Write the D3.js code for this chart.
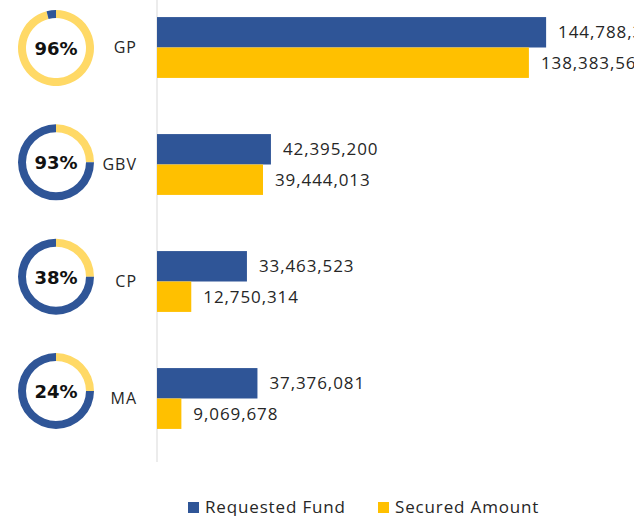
<!DOCTYPE html>
<html>
<head>
<meta charset="utf-8">
<title>Requested vs secured</title>
<style>
  body { margin: 0; background: #fff; }
  svg { display: block; font-family: "Open Sans", sans-serif; }
</style>
</head>
<body>
<svg></svg>
<script src="https://cdn.jsdelivr.net/npm/d3@7"></script>
<script>
// chart data
var categories = ["GP", "GBV", "CP", "MA"];
var requested = [144788386, 42395200, 33463523, 37376081];
var secured = [138383560, 39444013, 12750314, 9069678];
var pctLabels = ["96%", "93%", "38%", "24%"];
// share of each ring painted yellow (as drawn in the original)
var ringShare = [0.96, 0.25, 0.25, 0.25];
var seriesNames = ["Requested Fund", "Secured Amount"];

var width = 634, height = 516;
var blue = "#2F5597", yellow = "#FFC000", ringYellow = "#FFD966";

var svg = d3.select("svg")
    .attr("width", width)
    .attr("height", height);

// scales
var x = d3.scaleLinear().domain([0, 160e6]).range([157, 587]);
var y = d3.scaleBand().domain(categories)
    .range([-11, 457]).paddingInner(0.48).paddingOuter(0.24);
var ySub = d3.scaleBand().domain(seriesNames).range([0, y.bandwidth()]);
var yRing = d3.scalePoint().domain(categories).range([48, 391]);
var fmt = d3.format(",");

// vertical axis line
svg.append("line")
    .attr("x1", x(0)).attr("x2", x(0))
    .attr("y1", 0).attr("y2", 462)
    .attr("stroke", "#d9d9d9")
    .attr("stroke-width", 1);

var rows = categories.map(function(c, i) {
    return {cat: c, vals: [requested[i], secured[i]], pct: pctLabels[i], share: ringShare[i]};
});

var g = svg.selectAll(".row")
    .data(rows)
    .enter().append("g")
    .attr("class", "row")
    .attr("transform", function(d) { return "translate(0," + y(d.cat) + ")"; });

// bars
g.selectAll("rect")
    .data(function(d) { return d.vals.map(function(v, j) { return {v: v, s: seriesNames[j]}; }); })
    .enter().append("rect")
    .attr("x", x(0))
    .attr("y", function(d) { return ySub(d.s); })
    .attr("width", function(d) { return x(d.v) - x(0); })
    .attr("height", ySub.bandwidth())
    .attr("fill", function(d, j) { return j === 0 ? blue : yellow; });

// value labels
g.selectAll(".val")
    .data(function(d) { return d.vals.map(function(v, j) { return {v: v, s: seriesNames[j]}; }); })
    .enter().append("text")
    .attr("class", "val")
    .attr("x", function(d) { return x(d.v) + 12; })
    .attr("y", function(d) { return ySub(d.s) + ySub.bandwidth() / 2 + 6; })
    .style("font-size", "17px")
    .style("letter-spacing", "0.9px")
    .style("fill", "#262626")
    .text(function(d) { return fmt(d.v); });

// category labels
g.append("text")
    .attr("x", 137)
    .attr("y", y.bandwidth() / 2 + 6)
    .attr("text-anchor", "end")
    .style("font-size", "16px")
    .style("letter-spacing", "1px")
    .style("fill", "#262626")
    .text(function(d) { return d.cat; });

// rings
var pie = d3.pie().sort(null);
var arc = d3.arc().innerRadius(30).outerRadius(38);

var rings = svg.selectAll(".ring")
    .data(rows)
    .enter().append("g")
    .attr("class", "ring")
    .attr("transform", function(d) { return "translate(56," + yRing(d.cat) + ")"; });

rings.selectAll("path")
    .data(function(d) { return pie([d.share, 1 - d.share]); })
    .enter().append("path")
    .attr("d", arc)
    .attr("fill", function(d, j) { return j === 0 ? ringYellow : blue; });

rings.append("text")
    .attr("text-anchor", "middle")
    .attr("y", 7)
    .style("font-family", "DejaVu Sans, sans-serif")
    .style("font-weight", "bold")
    .style("font-size", "18px")
    .style("fill", "#111")
    .text(function(d) { return d.pct; });

// legend
var legend = svg.selectAll(".leg")
    .data(seriesNames)
    .enter().append("g")
    .attr("class", "leg")
    .attr("transform", function(d, i) { return "translate(" + (i === 0 ? 188 : 378) + ",502)"; });

legend.append("rect")
    .attr("width", 11).attr("height", 11)
    .attr("fill", function(d, i) { return i === 0 ? blue : yellow; });

legend.append("text")
    .attr("x", 17).attr("y", 11)
    .style("font-size", "17px")
    .style("letter-spacing", "0.85px")
    .style("fill", "#262626")
    .text(function(d) { return d; });
</script>
</body>
</html>
